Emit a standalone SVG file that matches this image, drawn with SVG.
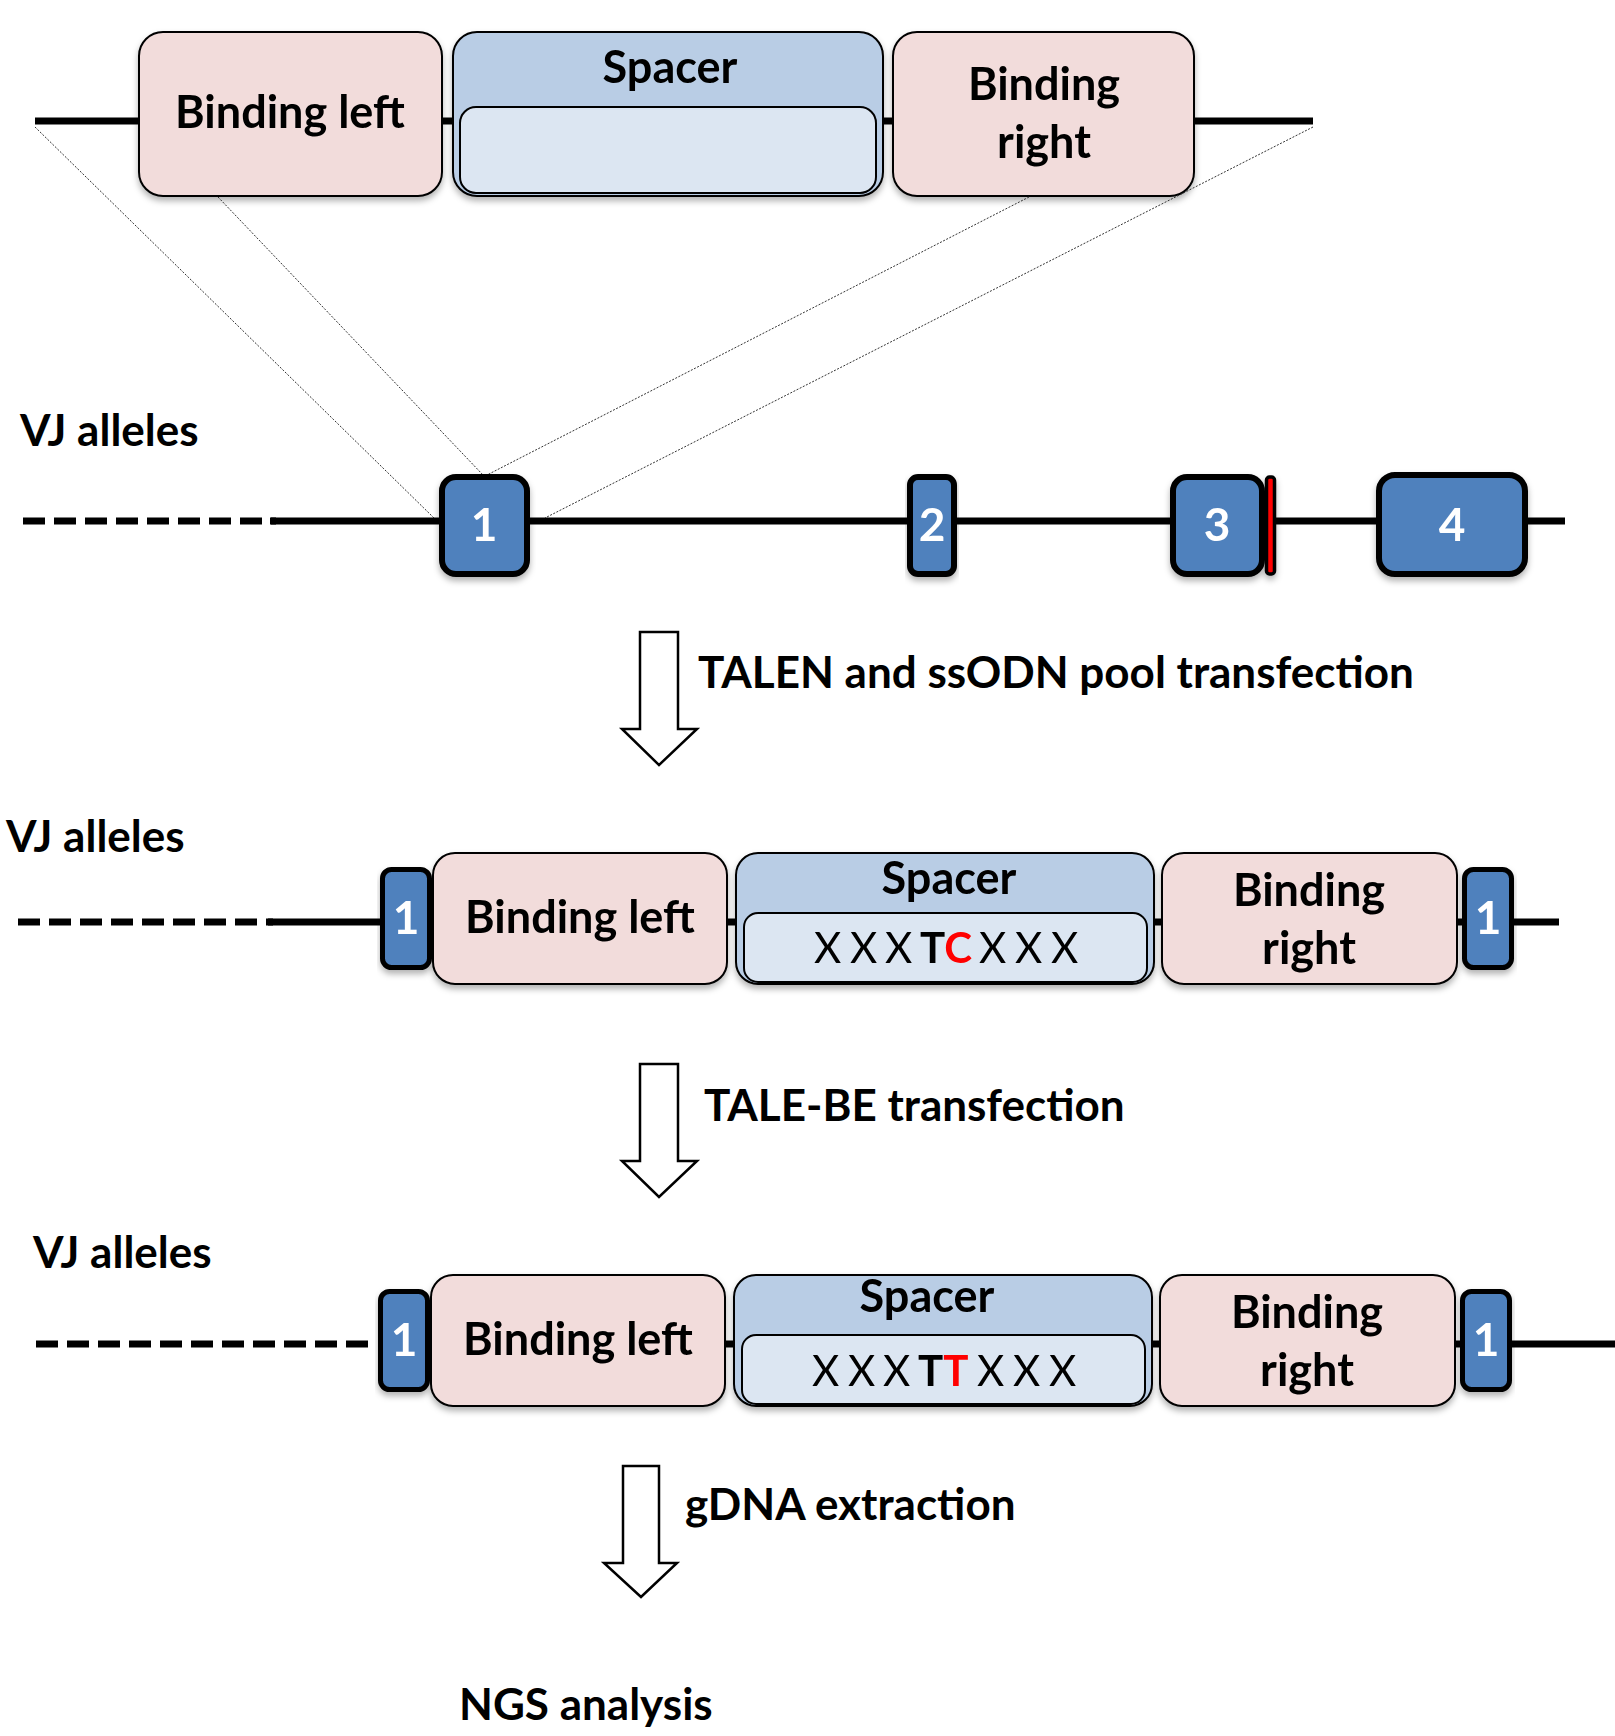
<svg xmlns="http://www.w3.org/2000/svg" width="1615" height="1736" viewBox="0 0 1615 1736">
  <defs>
    <filter id="shadow" x="-10%" y="-10%" width="120%" height="130%">
      <feGaussianBlur in="SourceAlpha" stdDeviation="3"/>
      <feOffset dx="0" dy="4" result="blur"/>
      <feFlood flood-color="#000000" flood-opacity="0.3"/>
      <feComposite in2="blur" operator="in"/>
      <feMerge>
        <feMergeNode/>
        <feMergeNode in="SourceGraphic"/>
      </feMerge>
    </filter>
  </defs>
  <style>
    text { font-family: Lato, "Open Sans", "Liberation Sans", sans-serif; font-weight: 700; font-size: 44px; fill: #000; }
    .box { font-size: 45px; }
    .mid { text-anchor: middle; }
    .num { fill: #fff; font-size: 46px; text-anchor: middle; }
    .seq { font-size: 42px; }
    .reg { font-weight: 400; }
    .red { fill: #ff0000; }
    .dna { stroke: #000; stroke-width: 7; fill: none; }
    .dash { stroke: #000; stroke-width: 7; fill: none; stroke-dasharray: 22 9; }
    .guide { stroke: #333; stroke-width: 1; fill: none; stroke-dasharray: 2 1.5; }
    .bind { fill: #f2dcdb; stroke: #000; stroke-width: 2; }
    .spacer { fill: #b9cde5; stroke: #000; stroke-width: 2; }
    .inner { fill: #dce6f2; stroke: #000; stroke-width: 2; }
    .exon { fill: #4f81bd; stroke: #000; stroke-width: 6; }
    .exon-s { fill: #4f81bd; stroke: #000; stroke-width: 5; }
    .arrow { fill: #fff; stroke: #000; stroke-width: 2.5; stroke-linejoin: miter; }
  </style>

  <!-- TALEN target site (top) -->
  <g id="target-site">
    <line class="dna" x1="35" y1="121" x2="1313" y2="121"/>
    <g id="top-binding-left" filter="url(#shadow)">
      <rect class="bind" x="139" y="32" width="303" height="164" rx="24"/>
      <text class="mid box" x="290" y="128">Binding left</text>
    </g>
    <g id="top-spacer" filter="url(#shadow)">
      <rect class="spacer" x="453" y="32" width="430" height="164" rx="24"/>
      <rect class="inner" x="460" y="107" width="416" height="86" rx="16"/>
      <text class="mid box" x="670" y="83">Spacer</text>
    </g>
    <g id="top-binding-right" filter="url(#shadow)">
      <rect class="bind" x="893" y="32" width="301" height="164" rx="24"/>
      <text class="mid box" x="1044" y="100">Binding</text>
      <text class="mid box" x="1044" y="158">right</text>
    </g>
  </g>

  <!-- zoom guide lines from target site to exon 1 -->
  <g id="connectors">
    <line class="guide" x1="35" y1="127" x2="434" y2="518"/>
    <line class="guide" x1="218" y1="197" x2="483" y2="475"/>
    <line class="guide" x1="1029" y1="197" x2="487" y2="475"/>
    <line class="guide" x1="1313" y1="127" x2="545" y2="518"/>
  </g>

  <!-- VJ alleles, initial locus -->
  <g id="locus-1">
    <text x="20" y="446">VJ alleles</text>
    <line class="dash" x1="23" y1="521" x2="276" y2="521"/>
    <line class="dna" x1="270" y1="521" x2="1565" y2="521"/>
    <g id="exon1" filter="url(#shadow)">
      <rect class="exon" x="442" y="477" width="85" height="97" rx="14"/>
      <text class="num" x="484" y="541">1</text>
    </g>
    <g id="exon2" filter="url(#shadow)">
      <rect class="exon" x="910" y="477" width="44" height="97" rx="8"/>
      <text class="num" x="932" y="541">2</text>
    </g>
    <g id="exon3" filter="url(#shadow)">
      <rect class="exon" x="1173" y="477" width="89" height="97" rx="14"/>
      <text class="num" x="1217" y="541">3</text>
      <rect x="1266.5" y="477" width="8" height="97" rx="3" fill="#ff0000" stroke="#000" stroke-width="3.5"/>
    </g>
    <g id="exon4" filter="url(#shadow)">
      <rect class="exon" x="1379" y="475" width="146" height="99" rx="16"/>
      <text class="num" x="1452" y="541">4</text>
    </g>
  </g>

  <!-- step 1 -->
  <g id="step-talen">
    <path class="arrow" d="M640,632 H678 V729 H697 L659,765 L622,729 H640 Z"/>
    <text x="698" y="688">TALEN and ssODN pool transfection</text>
  </g>

  <!-- VJ alleles after ssODN knock-in -->
  <g id="locus-2">
    <text x="6" y="852">VJ alleles</text>
    <line class="dash" x1="18" y1="922" x2="273" y2="922"/>
    <line class="dna" x1="268" y1="922" x2="1559" y2="922"/>
    <g id="l2-exon-left" filter="url(#shadow)">
      <rect class="exon-s" x="382.5" y="869.5" width="47" height="98" rx="9"/>
      <text class="num" x="406" y="934">1</text>
    </g>
    <g id="l2-binding-left" filter="url(#shadow)">
      <rect class="bind" x="433" y="853" width="294" height="131" rx="22"/>
      <text class="mid box" x="580" y="933">Binding left</text>
    </g>
    <g id="l2-spacer" filter="url(#shadow)">
      <rect class="spacer" x="736" y="853" width="418" height="131" rx="22"/>
      <rect class="inner" x="744" y="913" width="403" height="69" rx="14"/>
      <text class="mid box" x="949" y="894">Spacer</text>
      <text class="seq" y="963"><tspan class="reg" x="814">X</tspan><tspan class="reg" x="850">X</tspan><tspan class="reg" x="885">X</tspan><tspan x="920">T</tspan><tspan class="red">C</tspan><tspan class="reg" x="979">X</tspan><tspan class="reg" x="1015">X</tspan><tspan class="reg" x="1051">X</tspan></text>
    </g>
    <g id="l2-binding-right" filter="url(#shadow)">
      <rect class="bind" x="1162" y="853" width="295" height="131" rx="22"/>
      <text class="mid box" x="1309" y="906">Binding</text>
      <text class="mid box" x="1309" y="964">right</text>
    </g>
    <g id="l2-exon-right" filter="url(#shadow)">
      <rect class="exon-s" x="1464.5" y="869.5" width="47" height="98" rx="9"/>
      <text class="num" x="1488" y="934">1</text>
    </g>
  </g>

  <!-- step 2 -->
  <g id="step-talebe">
    <path class="arrow" d="M640,1064 H678 V1161 H697 L659,1197 L622,1161 H640 Z"/>
    <text x="704" y="1121">TALE-BE transfection</text>
  </g>

  <!-- VJ alleles after base editing -->
  <g id="locus-3">
    <text x="33" y="1268">VJ alleles</text>
    <line class="dash" x1="36" y1="1344" x2="372" y2="1344"/>
    <line class="dna" x1="1500" y1="1344" x2="1615" y2="1344"/>
    <line class="dna" x1="720" y1="1344" x2="1470" y2="1344"/>
    <g id="l3-exon-left" filter="url(#shadow)">
      <rect class="exon-s" x="380.5" y="1291.5" width="47" height="98" rx="9"/>
      <text class="num" x="404" y="1356">1</text>
    </g>
    <g id="l3-binding-left" filter="url(#shadow)">
      <rect class="bind" x="431" y="1275" width="294" height="131" rx="22"/>
      <text class="mid box" x="578" y="1355">Binding left</text>
    </g>
    <g id="l3-spacer" filter="url(#shadow)">
      <rect class="spacer" x="734" y="1275" width="418" height="131" rx="22"/>
      <rect class="inner" x="742" y="1335" width="403" height="69" rx="14"/>
      <text class="mid box" x="927" y="1312">Spacer</text>
      <text class="seq" y="1386"><tspan class="reg" x="812">X</tspan><tspan class="reg" x="848">X</tspan><tspan class="reg" x="883">X</tspan><tspan x="918">T</tspan><tspan class="red">T</tspan><tspan class="reg" x="977">X</tspan><tspan class="reg" x="1013">X</tspan><tspan class="reg" x="1049">X</tspan></text>
    </g>
    <g id="l3-binding-right" filter="url(#shadow)">
      <rect class="bind" x="1160" y="1275" width="295" height="131" rx="22"/>
      <text class="mid box" x="1307" y="1328">Binding</text>
      <text class="mid box" x="1307" y="1386">right</text>
    </g>
    <g id="l3-exon-right" filter="url(#shadow)">
      <rect class="exon-s" x="1462.5" y="1291.5" width="47" height="98" rx="9"/>
      <text class="num" x="1486" y="1356">1</text>
    </g>
  </g>

  <!-- step 3 -->
  <g id="step-gdna">
    <path class="arrow" d="M623,1466 H659 V1563 H677 L641,1597 L604,1563 H623 Z"/>
    <text x="685" y="1520">gDNA extraction</text>
  </g>

  <g id="ngs">
    <text x="459" y="1720">NGS analysis</text>
  </g>
</svg>
